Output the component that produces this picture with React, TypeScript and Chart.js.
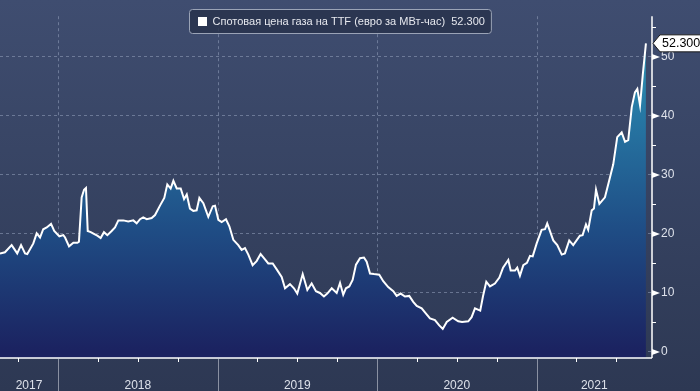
import React, { useEffect, useRef } from "react";
import { Chart, registerables } from "chart.js";

Chart.register(...registerables);

const seriesLabel = "Спотовая цена газа на TTF (евро за МВт-час)";

// decimal year of each observation
const dates = [
  2017.636, 2017.667, 2017.709, 2017.744, 2017.768, 2017.793, 2017.807, 2017.845, 2017.866, 2017.887,
  2017.907, 2017.929, 2017.956, 2017.976, 2018.008, 2018.033, 2018.044, 2018.069, 2018.096, 2018.121,
  2018.131, 2018.148, 2018.163, 2018.175, 2018.186, 2018.205, 2018.225, 2018.246, 2018.267, 2018.288,
  2018.309, 2018.336, 2018.357, 2018.378, 2018.409, 2018.44, 2018.472, 2018.493, 2018.514, 2018.534,
  2018.556, 2018.587, 2018.608, 2018.639, 2018.666, 2018.685, 2018.706, 2018.723, 2018.744, 2018.769,
  2018.79, 2018.807, 2018.827, 2018.848, 2018.869, 2018.886, 2018.911, 2018.942, 2018.97, 2018.984,
  2019.005, 2019.026, 2019.053, 2019.074, 2019.099, 2019.13, 2019.151, 2019.172, 2019.193, 2019.22,
  2019.245, 2019.27, 2019.291, 2019.318, 2019.346, 2019.371, 2019.402, 2019.423, 2019.454, 2019.479,
  2019.5, 2019.534, 2019.563, 2019.59, 2019.617, 2019.642, 2019.667, 2019.688, 2019.716, 2019.747,
  2019.768, 2019.788, 2019.805, 2019.826, 2019.847, 2019.868, 2019.893, 2019.918, 2019.935, 2019.956,
  2019.981, 2020.014, 2020.039, 2020.07, 2020.102, 2020.123, 2020.148, 2020.175, 2020.202, 2020.227,
  2020.249, 2020.28, 2020.307, 2020.332, 2020.363, 2020.39, 2020.412, 2020.437, 2020.474, 2020.509,
  2020.533, 2020.572, 2020.593, 2020.614, 2020.647, 2020.664, 2020.685, 2020.708, 2020.739, 2020.767,
  2020.79, 2020.823, 2020.838, 2020.865, 2020.879, 2020.896, 2020.917, 2020.94, 2020.959, 2020.976,
  2021.001, 2021.032, 2021.053, 2021.067, 2021.105, 2021.13, 2021.158, 2021.178, 2021.205, 2021.23,
  2021.272, 2021.289, 2021.31, 2021.324, 2021.346, 2021.36, 2021.373, 2021.394, 2021.429, 2021.456,
  2021.481, 2021.506, 2021.534, 2021.555, 2021.575, 2021.597, 2021.617, 2021.632, 2021.649, 2021.666,
  2021.686,
];

// EUR per MWh
const prices = [
  16.7, 16.9, 18.1, 16.7, 18.1, 16.7, 16.6, 18.4, 20.1, 19.4,
  20.8, 21.1, 21.7, 20.5, 19.6, 19.8, 19.4, 17.9, 18.5, 18.5,
  18.7, 26.2, 27.5, 27.8, 20.5, 20.3, 20.0, 19.7, 19.3, 20.3,
  19.8, 20.5, 21.1, 22.3, 22.3, 22.1, 22.3, 21.8, 22.5, 22.8,
  22.5, 22.7, 23.2, 24.8, 26.1, 28.4, 27.7, 29.0, 27.7, 27.7,
  25.9, 26.7, 24.3, 23.9, 24.0, 26.1, 25.2, 22.9, 24.7, 24.8,
  22.4, 22.0, 22.5, 21.3, 19.0, 18.1, 17.3, 17.6, 16.5, 14.7,
  15.4, 16.6, 15.9, 15.0, 15.0, 14.0, 12.7, 10.8, 11.5, 10.8,
  9.9, 13.2, 10.5, 11.6, 10.3, 10.0, 9.4, 9.9, 10.8, 10.0,
  11.7, 9.7, 10.8, 11.1, 12.2, 14.8, 15.9, 16.0, 15.3, 13.3,
  13.2, 13.1, 12.0, 11.0, 10.3, 9.5, 9.9, 9.4, 9.5, 8.5,
  7.8, 7.4, 6.5, 5.7, 5.4, 4.5, 3.9, 5.1, 5.8, 5.2,
  5.1, 5.2, 5.9, 7.4, 7.0, 9.4, 11.9, 11.1, 11.6, 12.6,
  14.3, 15.6, 13.8, 13.8, 14.3, 12.9, 14.7, 15.1, 16.3, 16.2,
  18.4, 20.7, 20.8, 21.8, 18.9, 18.1, 16.5, 16.7, 18.9, 18.1,
  19.7, 19.8, 21.6, 20.7, 24.0, 24.3, 27.5, 25.1, 26.2, 29.1,
  31.8, 36.4, 37.2, 35.6, 35.9, 41.5, 44.0, 44.6, 41.8, 46.9,
  52.3,
];

const yearLabels = [2017, 2018, 2019, 2020, 2021];
const yMajorTicks = [0, 10, 20, 30, 40, 50];
const yMinorTicks = [5, 15, 25, 35, 45, 55];
const quarterFractions = [0.25, 0.5, 0.75];

const X_MIN = 2017.636;
const X_MAX = 2021.724;
const Y_MIN = -1.02;
const Y_MAX = 56.9;

const FONT = "'Liberation Sans', Arial, sans-serif";

function roundRect(ctx: any, x0: number, y0: number, x1: number, y1: number, r: number) {
  ctx.beginPath();
  ctx.moveTo(x0 + r, y0);
  ctx.lineTo(x1 - r, y0);
  ctx.quadraticCurveTo(x1, y0, x1, y0 + r);
  ctx.lineTo(x1, y1 - r);
  ctx.quadraticCurveTo(x1, y1, x1 - r, y1);
  ctx.lineTo(x0 + r, y1);
  ctx.quadraticCurveTo(x0, y1, x0, y1 - r);
  ctx.lineTo(x0, y0 + r);
  ctx.quadraticCurveTo(x0, y0, x0 + r, y0);
  ctx.closePath();
}

const decorPlugin = {
  id: "decor",
  beforeDraw(chart: any) {
    const { ctx, width, height } = chart;
    ctx.save();
    const g = ctx.createLinearGradient(0, 0, 0, height);
    g.addColorStop(0, "#3f4d70");
    g.addColorStop(1, "#2d3853");
    ctx.fillStyle = g;
    ctx.fillRect(0, 0, width, height);
    ctx.restore();
  },
  beforeDatasetsDraw(chart: any) {
    const { ctx, chartArea } = chart;
    const xs = chart.scales.x;
    ctx.save();
    ctx.strokeStyle = "rgba(150,162,190,0.55)";
    ctx.lineWidth = 1;
    ctx.setLineDash([3, 3]);
    for (const y of yearLabels) {
      if (y <= X_MIN || y >= X_MAX) continue;
      const px = Math.round(xs.getPixelForValue(y)) + 0.5;
      ctx.beginPath();
      ctx.moveTo(px, chartArea.top);
      ctx.lineTo(px, chartArea.bottom);
      ctx.stroke();
    }
    ctx.restore();
  },
  afterDraw(chart: any) {
    const { ctx, chartArea, height } = chart;
    const xs = chart.scales.x;
    const ys = chart.scales.y;
    const last = prices[prices.length - 1];
    ctx.save();

    // legend
    const legendText = `${seriesLabel}  ${last.toFixed(3)}`;
    ctx.font = `11px ${FONT}`;
    const tw = ctx.measureText(legendText).width;
    const contentW = 9 + 5.5 + tw;
    const cx = (chartArea.left + chartArea.right) / 2 + 15;
    const sx = Math.round(cx - contentW / 2);
    const cy = 21.5;
    ctx.fillStyle = "rgba(40,50,76,0.85)";
    roundRect(ctx, sx - 8.5, 9.5, sx + contentW + 6.5, 33.5, 3);
    ctx.fill();
    ctx.strokeStyle = "#9aa3b6";
    ctx.lineWidth = 1;
    ctx.stroke();
    ctx.fillStyle = "#ffffff";
    ctx.fillRect(sx, cy - 4.5, 9, 9);
    ctx.fillStyle = "#e6e8ee";
    ctx.textBaseline = "middle";
    ctx.textAlign = "left";
    ctx.fillText(legendText, sx + 14.5, cy);

    // axis lines
    ctx.strokeStyle = "#ffffff";
    ctx.lineWidth = 1.5;
    ctx.beginPath();
    ctx.moveTo(chartArea.left, chartArea.bottom);
    ctx.lineTo(chartArea.right, chartArea.bottom);
    ctx.moveTo(chartArea.right, chartArea.top);
    ctx.lineTo(chartArea.right, chartArea.bottom);
    ctx.stroke();
    // year separators
    ctx.strokeStyle = "rgba(200,205,215,0.6)";
    ctx.lineWidth = 1;
    for (const y of yearLabels) {
      if (y <= X_MIN || y >= X_MAX) continue;
      const px = Math.round(xs.getPixelForValue(y)) + 0.5;
      ctx.beginPath();
      ctx.moveTo(px, chartArea.bottom);
      ctx.lineTo(px, height);
      ctx.stroke();
    }
    // quarter ticks
    ctx.strokeStyle = "#ffffff";
    for (const y of yearLabels) {
      for (const q of quarterFractions) {
        const v = y + q;
        if (v <= X_MIN || v >= X_MAX) continue;
        const px = Math.round(xs.getPixelForValue(v)) + 0.5;
        ctx.beginPath();
        ctx.moveTo(px, chartArea.bottom);
        ctx.lineTo(px, chartArea.bottom + 4);
        ctx.stroke();
      }
    }
    // y minor ticks
    for (const v of yMinorTicks) {
      const py = Math.round(ys.getPixelForValue(v)) + 0.5;
      ctx.beginPath();
      ctx.moveTo(chartArea.right, py);
      ctx.lineTo(chartArea.right + 4, py);
      ctx.stroke();
    }
    // y major markers
    ctx.fillStyle = "#ffffff";
    for (const v of yMajorTicks) {
      const py = ys.getPixelForValue(v);
      ctx.beginPath();
      ctx.moveTo(chartArea.right, py - 3);
      ctx.lineTo(chartArea.right + 8, py);
      ctx.lineTo(chartArea.right, py + 3);
      ctx.closePath();
      ctx.fill();
    }
    // last value tag
    const ty = ys.getPixelForValue(last);
    const tx = chartArea.right + 1;
    ctx.fillStyle = "#ffffff";
    ctx.strokeStyle = "#1a1a1a";
    ctx.lineWidth = 1;
    ctx.beginPath();
    ctx.moveTo(tx, ty);
    ctx.lineTo(tx + 7, ty - 8.5);
    ctx.lineTo(702, ty - 8.5);
    ctx.lineTo(702, ty + 8.5);
    ctx.lineTo(tx + 7, ty + 8.5);
    ctx.closePath();
    ctx.fill();
    ctx.stroke();
    ctx.fillStyle = "#000000";
    ctx.font = `12.5px ${FONT}`;
    ctx.textBaseline = "middle";
    ctx.textAlign = "left";
    ctx.fillText(last.toFixed(3), tx + 9, ty + 0.5);
    ctx.restore();
  },
};

export default function App() {
  const ref = useRef<HTMLCanvasElement | null>(null);

  useEffect(() => {
    document.body.style.margin = "0";
    const canvas = ref.current;
    if (!canvas) return;
    const points = dates.map((d, i) => ({ x: d, y: prices[i] }));

    const chart = new Chart(canvas, {
      type: "line",
      data: {
        datasets: [
          {
            label: seriesLabel,
            data: points,
            borderColor: "#ffffff",
            borderWidth: 2,
            pointRadius: 0,
            tension: 0,
            fill: "start",
            backgroundColor: (c: any) => {
              const ch = c.chart;
              const area = ch.chartArea;
              if (!area) return "#1f4f86";
              const ys = ch.scales.y;
              const g = ch.ctx.createLinearGradient(0, ys.getPixelForValue(0), 0, ys.getPixelForValue(52));
              g.addColorStop(0, "#1b2260");
              g.addColorStop(0.4, "#1f4d85");
              g.addColorStop(0.75, "#2675a2");
              g.addColorStop(1, "#2b92b3");
              return g;
            },
          },
        ],
      },
      options: {
        animation: false,
        responsive: false,
        layout: { padding: 0 },
        plugins: {
          tooltip: { enabled: false },
          legend: { display: false },
        },
        scales: {
          x: {
            type: "linear",
            position: "bottom",
            min: X_MIN,
            max: X_MAX,
            afterBuildTicks: (s: any) => {
              s.ticks = yearLabels.map((y) => ({
                value: (Math.max(y, X_MIN) + Math.min(y + 1, X_MAX)) / 2,
              }));
            },
            afterFit: (s: any) => {
              s.height = 33;
            },
            ticks: {
              autoSkip: false,
              maxRotation: 0,
              padding: 12,
              color: "#dde1ea",
              font: { family: FONT, size: 12 },
              callback: (v: any) => String(Math.floor(Number(v))),
            },
            grid: { display: false },
            border: { display: false },
          },
          y: {
            type: "linear",
            position: "right",
            min: Y_MIN,
            max: Y_MAX,
            afterBuildTicks: (s: any) => {
              s.ticks = yMajorTicks.map((v) => ({ value: v }));
            },
            afterFit: (s: any) => {
              s.width = 48;
            },
            ticks: {
              padding: 9,
              color: "#dde1ea",
              font: { family: FONT, size: 12 },
              callback: (v: any) => String(v),
            },
            grid: {
              display: true,
              drawTicks: false,
              color: "rgba(150,162,190,0.55)",
              lineWidth: 1,
            },
            border: { display: false, dash: [3, 3] },
          },
        },
      },
      plugins: [decorPlugin],
    });
    return () => chart.destroy();
  }, []);

  return (
    <div style={{ width: 700, height: 391 }}>
      <canvas ref={ref} width={700} height={391} style={{ display: "block", width: 700, height: 391 }} />
    </div>
  );
}
